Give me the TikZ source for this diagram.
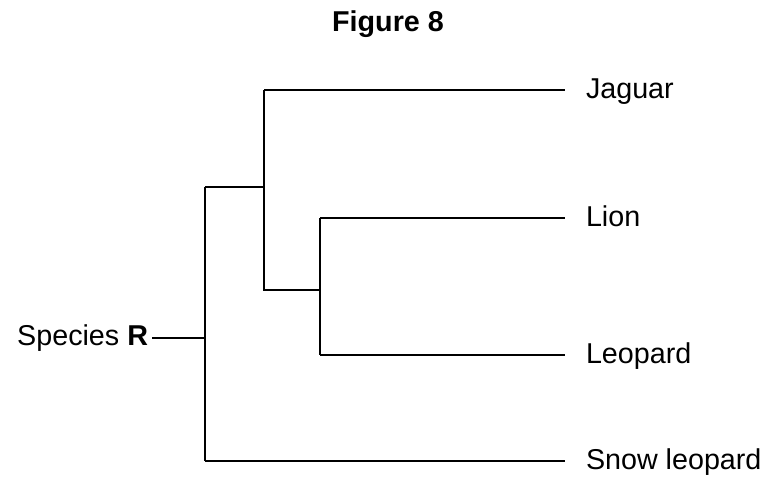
\documentclass[tikz,border=0pt]{standalone}
\usepackage{fontspec}
\setmainfont{Liberation Sans}
\usepackage{tikz}

\begin{document}
\begin{tikzpicture}[x=.5pt,y=-.5pt,line width=1pt,
	leaf/.style={anchor=west,inner xsep=10pt,inner ysep=0pt,text height=.72em,text depth=0pt},
	font=\fontsize{14.35pt}{17pt}\selectfont]
	\useasboundingbox[fill=white] (0,0) rectangle (768,504);
	\node[font=\fontsize{14.35pt}{17pt}\selectfont\bfseries] (title) at (388,24) {Figure 8};
	\path
	(205,338) coordinate (R)
	(205,187) coordinate (A)
	(205,461) coordinate (H)
	(264,187) coordinate (B)
	(264,90) coordinate (C)
	(264,290) coordinate (D)
	(320,290) coordinate (E)
	(320,218) coordinate (F)
	(320,355) coordinate (G)
	;
	\node[anchor=east,inner xsep=1.5pt,inner ysep=0pt,text height=.72em,text depth=0pt] (species) at (152,338) {Species \textbf{R}};
	\foreach \n/\y/\t in {jaguar/90/Jaguar,lion/218/Lion,leopard/355/Leopard,snow/461/Snow leopard} \node[leaf] (\n) at (565,\y+1) {\t};
	\draw (species.east) -- (R);
	\draw (A) -- (H);
	\draw (A) -- (B);
	\draw (C) -- (D) -- (E);
	\draw (F) -- (G);
	\draw (C) -- (C -| jaguar.west);
	\draw (F) -- (F -| lion.west);
	\draw (G) -- (G -| leopard.west);
	\draw (H) -- (H -| snow.west);
\end{tikzpicture}
\end{document}
